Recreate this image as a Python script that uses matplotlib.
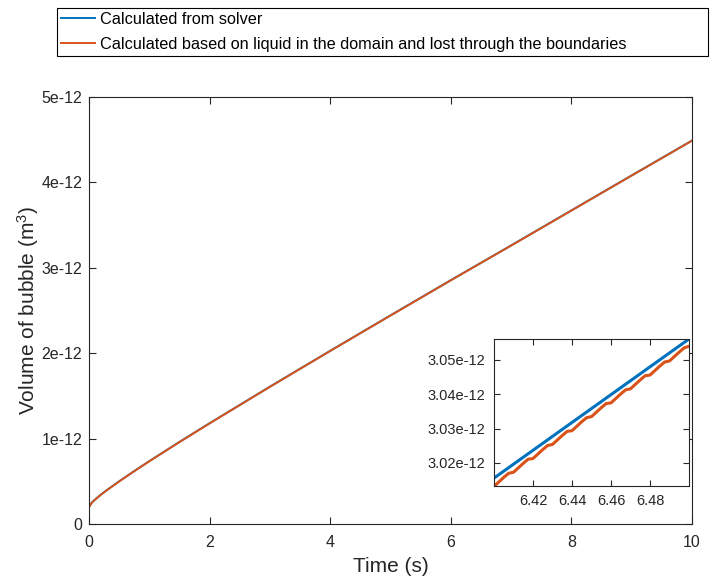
import numpy as np
import matplotlib
matplotlib.use("Agg")
import matplotlib.pyplot as plt

plt.rcParams['font.family'] = ['Liberation Sans', 'DejaVu Sans']
plt.rcParams['mathtext.fontset'] = 'custom'
plt.rcParams['mathtext.rm'] = 'Liberation Sans'
plt.rcParams['mathtext.it'] = 'Liberation Sans:italic'

# ---------------- data (units of 1e-12 m^3) ----------------
time_main = [0.0, 0.05, 0.1, 0.2, 0.3, 0.5, 0.75, 1.0, 1.5, 2.0, 3.0, 4.0,
             5.0, 6.0, 7.0, 8.0, 9.0, 10.0]
vol_solver = [0.200, 0.254, 0.287, 0.346, 0.399, 0.500, 0.620, 0.736, 0.961,
              1.180, 1.608, 2.028, 2.443, 2.855, 3.262, 3.672, 4.082, 4.490]
vol_balance = [0.198, 0.252, 0.285, 0.344, 0.397, 0.498, 0.618, 0.734, 0.959,
               1.178, 1.606, 2.026, 2.441, 2.853, 3.260, 3.670, 4.080, 4.488]

time_zoom_solver = [6.40, 6.42, 6.44, 6.46, 6.48, 6.50]
zoom_solver = [3.0156, 3.0237, 3.0318, 3.0399, 3.0480, 3.0561]
time_zoom_balance = list(np.linspace(6.40, 6.50, 41))
zoom_balance = [3.0132, 3.0145, 3.0158, 3.0170, 3.0173, 3.0186, 3.0199, 3.0211,
                3.0213, 3.0226, 3.0239, 3.0251, 3.0254, 3.0267, 3.0280, 3.0292,
                3.0294, 3.0307, 3.0320, 3.0332, 3.0335, 3.0348, 3.0361, 3.0373,
                3.0375, 3.0388, 3.0401, 3.0413, 3.0416, 3.0429, 3.0442, 3.0454,
                3.0456, 3.0469, 3.0482, 3.0494, 3.0497, 3.0510, 3.0523, 3.0535,
                3.0540]

labels = ["Calculated from solver",
          "Calculated based on liquid in the domain and lost through the boundaries"]
main_xticks = [0, 2, 4, 6, 8, 10]
main_yticks = [0, 1, 2, 3, 4, 5]
main_yticklabels = ["0", "1e-12", "2e-12", "3e-12", "4e-12", "5e-12"]
zoom_xticks = [6.42, 6.44, 6.46, 6.48]
zoom_xticklabels = ["6.42", "6.44", "6.46", "6.48"]
zoom_yticks = [3.02, 3.03, 3.04, 3.05]
zoom_yticklabels = ["3.02e-12", "3.03e-12", "3.04e-12", "3.05e-12"]

blue = "#0072BD"
orange = "#D95319"
axcol = "#262626"

W, H = 710, 578
fig = plt.figure(figsize=(W / 100, H / 100), dpi=100)

def frac(x0, y0, x1, y1):
    return [x0 / W, 1 - y1 / H, (x1 - x0) / W, (y1 - y0) / H]

ax = fig.add_axes(frac(89, 97, 692, 524))
l1, = ax.plot(time_main, vol_solver, color=blue, lw=1.4)
l2, = ax.plot(time_main, vol_balance, color=orange, lw=1.4)
ax.set_xlim(0, 10)
ax.set_ylim(0, 5)
ax.set_xticks(main_xticks)
ax.set_xticklabels([str(v) for v in main_xticks])
ax.set_yticks(main_yticks)
ax.set_yticklabels(main_yticklabels)
ax.tick_params(direction='in', top=True, right=True, labelsize=11.5,
               colors=axcol, length=5, width=0.8)
ax.tick_params(axis='x', pad=8)
ax.tick_params(axis='y', pad=5)
for s in ax.spines.values():
    s.set_color(axcol)
    s.set_linewidth(0.8)
ax.set_xlabel("Time (s)", fontsize=15, color=axcol, labelpad=5)
ax.set_ylabel("Volume of bubble (m$^3$)", fontsize=15, color=axcol, labelpad=0)

ins = fig.add_axes(frac(494, 339, 689, 486))
ins.plot(time_zoom_solver, zoom_solver, color=blue, lw=2.2)
ins.plot(time_zoom_balance, zoom_balance, color=orange, lw=2.2)
ins.set_xlim(6.40, 6.50)
ins.set_ylim(3.0133, 3.0561)
ins.set_xticks(zoom_xticks)
ins.set_xticklabels(zoom_xticklabels)
ins.set_yticks(zoom_yticks)
ins.set_yticklabels(zoom_yticklabels)
ins.tick_params(direction='in', top=True, right=True, labelsize=10.5,
                colors=axcol, length=4, width=0.8, pad=6)
for s in ins.spines.values():
    s.set_color(axcol)
    s.set_linewidth(0.8)

leg = fig.legend([l1, l2], labels, loc='upper left',
                 bbox_to_anchor=(57 / W, 1 - 8 / H, 651 / W, 0),
                 mode='expand', borderaxespad=0, fancybox=False,
                 edgecolor='black', fontsize=11.7, handlelength=2.1,
                 handletextpad=0.3, labelspacing=0.6, borderpad=0.24,
                 framealpha=1)
leg.get_frame().set_linewidth(0.8)

fig.savefig("out.png", dpi=100)
